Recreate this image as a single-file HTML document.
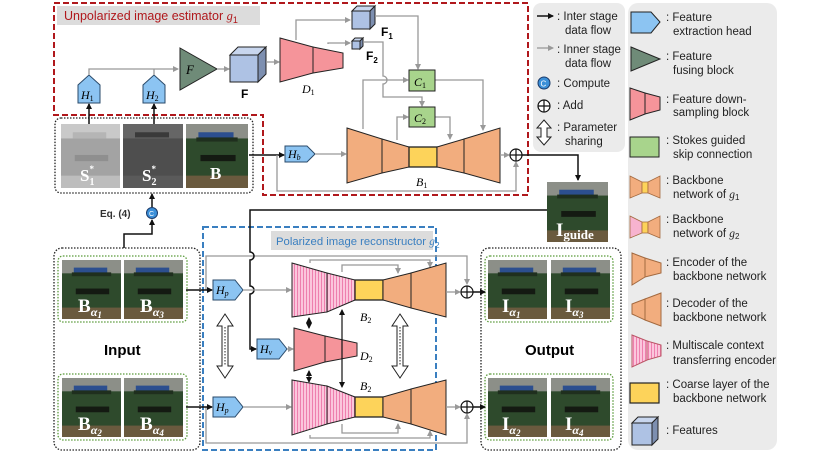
<!DOCTYPE html>
<html><head><meta charset="utf-8"><style>
html,body{margin:0;padding:0;background:#fff;}
svg{display:block;font-family:"Liberation Sans",sans-serif;}
.m{font-family:"Liberation Serif",serif;font-style:italic;}
.lg{font-size:11.5px;fill:#222;}
</style></head><body>
<svg width="830" height="455" viewBox="0 0 830 455" xmlns="http://www.w3.org/2000/svg">
<defs>
<marker id="ag" markerWidth="6" markerHeight="6" refX="5" refY="3" orient="auto" markerUnits="userSpaceOnUse"><path d="M0,0 L6,3 L0,6 z" fill="#999"/></marker>
<marker id="ab" markerWidth="6" markerHeight="6" refX="5" refY="3" orient="auto" markerUnits="userSpaceOnUse"><path d="M0,0 L6,3 L0,6 z" fill="#111"/></marker>
<marker id="abs" markerWidth="6" markerHeight="6" refX="1" refY="3" orient="auto" markerUnits="userSpaceOnUse"><path d="M6,0 L0,3 L6,6 z" fill="#111"/></marker>
<pattern id="pk" width="3" height="3" patternUnits="userSpaceOnUse"><rect width="3" height="3" fill="#fbc6dc"/><rect width="1" height="3" fill="#ee7fae"/></pattern>
<symbol id="ph" viewBox="0 0 60 62" preserveAspectRatio="none">
<rect width="60" height="62" fill="#2e4a2c"/><rect width="60" height="14" fill="#8c8f88"/>
<rect x="12" y="8" width="34" height="6" fill="#2c4f8f"/><rect x="10" y="13" width="40" height="4" fill="#1f2f1e"/>
<rect x="14" y="30" width="34" height="6" fill="#141a12"/><rect y="50" width="60" height="12" fill="#6a5a3e"/>
</symbol>
<symbol id="pl" viewBox="0 0 60 62" preserveAspectRatio="none">
<rect width="60" height="62" fill="#a3a3a3"/><rect width="60" height="14" fill="#c9c9c9"/>
<rect x="12" y="8" width="34" height="6" fill="#b5b5b5"/><rect x="14" y="30" width="34" height="6" fill="#8f8f8f"/><rect y="50" width="60" height="12" fill="#bdbdbd"/>
</symbol>
<symbol id="pd" viewBox="0 0 60 62" preserveAspectRatio="none">
<rect width="60" height="62" fill="#4e4e4e"/><rect width="60" height="14" fill="#666"/>
<rect x="12" y="8" width="34" height="5" fill="#3a3a3a"/><rect y="50" width="60" height="12" fill="#5a5a5a"/>
</symbol>
</defs>

<path d="M54,3 H528 V195 H263 V115 H54 Z" fill="none" stroke="#b0181c" stroke-width="2" stroke-dasharray="6,3"/>
<rect x="57" y="6" width="203" height="19" fill="#dcdcdc"/>
<text x="64" y="20" font-size="12.5" fill="#b0181c">Unpolarized image estimator <tspan class="m">g</tspan><tspan font-size="9" dy="3">1</tspan></text>

<rect x="55" y="118" width="198" height="75" rx="6" fill="none" stroke="#222" stroke-dasharray="1.5,1.5" stroke-width="1.3"/>
<use href="#pl" x="61" y="124" width="59" height="64"/>
<use href="#pd" x="123" y="124" width="60" height="64"/>
<use href="#ph" x="186" y="124" width="62" height="64"/>
<text x="80" y="181" font-size="17" font-weight="bold" fill="#fff" font-family="Liberation Serif,serif">S<tspan font-size="10" dy="4">1</tspan><tspan font-size="9" dx="-5" dy="-13">*</tspan></text>
<text x="142" y="181" font-size="17" font-weight="bold" fill="#fff" font-family="Liberation Serif,serif">S<tspan font-size="10" dy="4">2</tspan><tspan font-size="9" dx="-5" dy="-13">*</tspan></text>
<text x="210" y="179" font-size="17" font-weight="bold" fill="#fff" font-family="Liberation Serif,serif">B</text>

<line x1="89" y1="124" x2="89" y2="104" stroke="#111" stroke-width="1.5" marker-end="url(#ab)"/>
<line x1="154" y1="124" x2="154" y2="104" stroke="#111" stroke-width="1.5" marker-end="url(#ab)"/>
<polygon points="78,103 78,85 89,75 100,85 100,103" fill="#8cc4f2" stroke="#2a4a6a"/>
<polygon points="143,103 143,85 154,75 165,85 165,103" fill="#8cc4f2" stroke="#2a4a6a"/>
<text x="81" y="99" class="m" font-size="12">H<tspan font-size="8" dy="2" font-style="normal">1</tspan></text>
<text x="146" y="99" class="m" font-size="12">H<tspan font-size="8" dy="2" font-style="normal">2</tspan></text>
<path d="M89,75 V69 H178" fill="none" stroke="#999" stroke-width="1.3" marker-end="url(#ag)"/>
<line x1="154" y1="75" x2="154" y2="69" stroke="#999" stroke-width="1.3"/>
<polygon points="180,48 217,69 180,90" fill="#6f8b78" stroke="#222"/>
<text x="186" y="74" class="m" font-size="13">F</text>
<line x1="217" y1="69" x2="229" y2="69" stroke="#999" stroke-width="1.3" marker-end="url(#ag)"/>
<polygon points="230,55 238,47 266,47 258,55" fill="#c8d6ee" stroke="#222"/>
<polygon points="258,55 266,47 266,74 258,82" fill="#7d8fb0" stroke="#222"/>
<rect x="230" y="55" width="28" height="27" fill="#aec2e4" stroke="#222"/>
<text x="241" y="98" font-size="12" font-weight="bold">F</text>
<line x1="266" y1="62" x2="279" y2="62" stroke="#999" stroke-width="1.3" marker-end="url(#ag)"/>
<polygon points="280,38 313,47 313,73 280,82" fill="#f5949a" stroke="#222"/>
<polygon points="313,47 343,53 343,68 313,73" fill="#f5949a" stroke="#222"/>
<text x="302" y="93" class="m" font-size="12">D<tspan font-size="8" dy="2" font-style="normal">1</tspan></text>
<path d="M296,40 V20 H350" fill="none" stroke="#999" stroke-width="1.3" marker-end="url(#ag)"/>
<path d="M328,44 V43 H350" fill="none" stroke="#999" stroke-width="1.3" marker-end="url(#ag)"/>
<polygon points="352,11 357,6 375,6 370,11" fill="#c8d6ee" stroke="#222"/>
<polygon points="370,11 375,6 375,24 370,29" fill="#7d8fb0" stroke="#222"/>
<rect x="352" y="11" width="18" height="18" fill="#aec2e4" stroke="#222"/>
<text x="381" y="36" font-size="12" font-weight="bold">F<tspan font-size="8" dy="3">1</tspan></text>
<polygon points="352,41 355,38 363,38 360,41" fill="#c8d6ee" stroke="#222"/>
<polygon points="360,41 363,38 363,46 360,49" fill="#7d8fb0" stroke="#222"/>
<rect x="352" y="41" width="8" height="8" fill="#aec2e4" stroke="#222"/>
<text x="366" y="60" font-size="12" font-weight="bold">F<tspan font-size="8" dy="3">2</tspan></text>
<path d="M375,16 H418 V69" fill="none" stroke="#999" stroke-width="1.3" marker-end="url(#ag)"/>
<path d="M363,42 H383 V76 a4,4 0 0 1 0,8 V97 H422 V106" fill="none" stroke="#999" stroke-width="1.3" marker-end="url(#ag)"/>
<path d="M363,129 V80 H408" fill="none" stroke="#999" stroke-width="1.3" marker-end="url(#ag)"/>
<path d="M397,140 V117 H408" fill="none" stroke="#999" stroke-width="1.3" marker-end="url(#ag)"/>
<path d="M435,80 H483 V130" fill="none" stroke="#999" stroke-width="1.3" marker-end="url(#ag)"/>
<path d="M435,117 H450 V139" fill="none" stroke="#999" stroke-width="1.3" marker-end="url(#ag)"/>
<rect x="409" y="70" width="26" height="21" fill="#a8d48c" stroke="#222"/>
<rect x="409" y="107" width="26" height="20" fill="#a8d48c" stroke="#222"/>
<text x="414" y="86" class="m" font-size="12">C<tspan font-size="8" dy="2" font-style="normal">1</tspan></text>
<text x="414" y="122" class="m" font-size="12">C<tspan font-size="8" dy="2" font-style="normal">2</tspan></text>
<polygon points="347,128 382,139 382,173 347,183" fill="#f2ad7e" stroke="#222"/>
<polygon points="382,139 409,147 409,167 382,173" fill="#f2ad7e" stroke="#222"/>
<rect x="409" y="147" width="28" height="20" fill="#fdd35a" stroke="#222" stroke-width="1.3"/>
<polygon points="437,147 464,139 464,173 437,167" fill="#f2ad7e" stroke="#222"/>
<polygon points="464,139 500,128 500,183 464,173" fill="#f2ad7e" stroke="#222"/>
<text x="416" y="186" class="m" font-size="12">B<tspan font-size="8" dy="2" font-style="normal">1</tspan></text>
<line x1="249" y1="155" x2="284" y2="155" stroke="#111" stroke-width="1.5" marker-end="url(#ab)"/>
<polygon points="285,146 307,146 315,154 307,162 285,162" fill="#8cc4f2" stroke="#2a4a6a"/>
<text x="288" y="158" class="m" font-size="12">H<tspan font-size="8" dy="2">b</tspan></text>
<line x1="315" y1="154" x2="346" y2="154" stroke="#999" stroke-width="1.3" marker-end="url(#ag)"/>
<line x1="500" y1="155" x2="509" y2="155" stroke="#999" stroke-width="1.3" marker-end="url(#ag)"/>
<path d="M277,155 V191 H516 V162" fill="none" stroke="#999" stroke-width="1.3" marker-end="url(#ag)"/>
<circle cx="516" cy="155" r="6" fill="#fff" stroke="#111" stroke-width="1.2"/>
<path d="M510,155 H522 M516,149 V161" stroke="#111" stroke-width="1.2"/>
<path d="M522,155 H578 V180" fill="none" stroke="#111" stroke-width="1.5" marker-end="url(#ab)"/>
<use href="#ph" x="547" y="182" width="61" height="60"/>
<text x="556" y="236" font-size="19" font-weight="bold" fill="#fff" font-family="Liberation Serif,serif">I<tspan font-size="13" dy="3">guide</tspan></text>

<text x="100" y="217" font-size="10" font-weight="bold" fill="#333">Eq. (4)</text>
<line x1="152" y1="207" x2="152" y2="194" stroke="#111" stroke-width="1.5" marker-end="url(#ab)"/>
<path d="M124,248 V234 H152 V220" fill="none" stroke="#111" stroke-width="1.5" marker-end="url(#ab)"/>
<circle cx="152" cy="213" r="5.5" fill="#3b8fd8" stroke="#1a3a6a"/>
<text x="149" y="216" font-size="7" fill="#fff">C</text>

<rect x="54" y="248" width="146" height="202" rx="8" fill="none" stroke="#222" stroke-dasharray="1.5,1.5" stroke-width="1.3"/>
<rect x="58" y="256" width="129" height="66" rx="5" fill="none" stroke="#5a9a3a" stroke-dasharray="1.5,1.5" stroke-width="1.3"/>
<rect x="58" y="374" width="129" height="66" rx="5" fill="none" stroke="#5a9a3a" stroke-dasharray="1.5,1.5" stroke-width="1.3"/>
<use href="#ph" x="62" y="260" width="59" height="59"/><use href="#ph" x="124" y="260" width="59" height="59"/>
<use href="#ph" x="62" y="378" width="59" height="59"/><use href="#ph" x="124" y="378" width="59" height="59"/>
<g font-family="Liberation Serif,serif" fill="#fff" font-weight="bold" font-size="19">
<text x="78" y="312">B<tspan font-size="12" font-style="italic" dy="4">α<tspan font-size="9" dy="2">1</tspan></tspan></text>
<text x="140" y="312">B<tspan font-size="12" font-style="italic" dy="4">α<tspan font-size="9" dy="2">3</tspan></tspan></text>
<text x="78" y="430">B<tspan font-size="12" font-style="italic" dy="4">α<tspan font-size="9" dy="2">2</tspan></tspan></text>
<text x="140" y="430">B<tspan font-size="12" font-style="italic" dy="4">α<tspan font-size="9" dy="2">4</tspan></tspan></text>
</g>
<text x="104" y="355" font-size="15" font-weight="bold">Input</text>

<rect x="481" y="248" width="140" height="202" rx="8" fill="none" stroke="#222" stroke-dasharray="1.5,1.5" stroke-width="1.3"/>
<rect x="485" y="256" width="128" height="66" rx="5" fill="none" stroke="#5a9a3a" stroke-dasharray="1.5,1.5" stroke-width="1.3"/>
<rect x="485" y="374" width="128" height="66" rx="5" fill="none" stroke="#5a9a3a" stroke-dasharray="1.5,1.5" stroke-width="1.3"/>
<use href="#ph" x="488" y="260" width="59" height="59"/><use href="#ph" x="551" y="260" width="59" height="59"/>
<use href="#ph" x="488" y="378" width="59" height="59"/><use href="#ph" x="551" y="378" width="59" height="59"/>
<g font-family="Liberation Serif,serif" fill="#fff" font-weight="bold" font-size="19">
<text x="502" y="312">I<tspan font-size="12" font-style="italic" dy="4">α<tspan font-size="9" dy="2">1</tspan></tspan></text>
<text x="565" y="312">I<tspan font-size="12" font-style="italic" dy="4">α<tspan font-size="9" dy="2">3</tspan></tspan></text>
<text x="502" y="430">I<tspan font-size="12" font-style="italic" dy="4">α<tspan font-size="9" dy="2">2</tspan></tspan></text>
<text x="565" y="430">I<tspan font-size="12" font-style="italic" dy="4">α<tspan font-size="9" dy="2">4</tspan></tspan></text>
</g>
<text x="525" y="355" font-size="15" font-weight="bold">Output</text>

<rect x="203" y="227" width="233" height="223" fill="none" stroke="#3a7fc0" stroke-width="2" stroke-dasharray="6,3"/>
<rect x="271" y="231" width="162" height="19" fill="#dcdcdc"/>
<text x="276" y="245" font-size="11.3" fill="#3a7fc0">Polarized image reconstructor <tspan class="m">g</tspan><tspan font-size="8.5" dy="3">2</tspan></text>

<path d="M206,290 V256 H467 V284" fill="none" stroke="#999" stroke-width="1.3" marker-end="url(#ag)"/>
<path d="M206,407 V443 H467 V414" fill="none" stroke="#999" stroke-width="1.3" marker-end="url(#ag)"/>
<path d="M310,263 V260 H430 V267" fill="none" stroke="#999" stroke-width="1.3" marker-end="url(#ag)"/>
<path d="M342,272 V265 H398 V273" fill="none" stroke="#999" stroke-width="1.3" marker-end="url(#ag)"/>
<path d="M310,435 V438 H430 V431" fill="none" stroke="#999" stroke-width="1.3" marker-end="url(#ag)"/>
<path d="M342,424 V433 H398 V424" fill="none" stroke="#999" stroke-width="1.3" marker-end="url(#ag)"/>

<path d="M547,210 H250 V252 a4,4 0 0 1 0,8 V286 a4,4 0 0 1 0,8 V349 H256" fill="none" stroke="#111" stroke-width="1.5" marker-end="url(#ab)"/>

<line x1="186" y1="290" x2="212" y2="290" stroke="#111" stroke-width="1.5" marker-end="url(#ab)"/>
<line x1="186" y1="407" x2="212" y2="407" stroke="#111" stroke-width="1.5" marker-end="url(#ab)"/>
<polygon points="213,280 235,280 243,290 235,300 213,300" fill="#8cc4f2" stroke="#2a4a6a"/>
<polygon points="213,397 235,397 243,407 235,417 213,417" fill="#8cc4f2" stroke="#2a4a6a"/>
<text x="216" y="294" class="m" font-size="12">H<tspan font-size="8" dy="2">p</tspan></text>
<text x="216" y="411" class="m" font-size="12">H<tspan font-size="8" dy="2">p</tspan></text>
<polygon points="257,339 279,339 287,349 279,359 257,359" fill="#8cc4f2" stroke="#2a4a6a"/>
<text x="260" y="353" class="m" font-size="12">H<tspan font-size="8" dy="2">v</tspan></text>
<line x1="243" y1="290" x2="291" y2="290" stroke="#999" stroke-width="1.3" marker-end="url(#ag)"/>
<line x1="243" y1="407" x2="291" y2="407" stroke="#999" stroke-width="1.3" marker-end="url(#ag)"/>
<line x1="287" y1="349" x2="293" y2="349" stroke="#999" stroke-width="1.3" marker-end="url(#ag)"/>

<polygon points="292,263 327,273 327,312 292,317" fill="url(#pk)" stroke="#222"/>
<polygon points="327,273 355,280 355,300 327,312" fill="url(#pk)" stroke="#222"/>
<rect x="355" y="280" width="28" height="20" fill="#fdd35a" stroke="#222" stroke-width="1.3"/>
<polygon points="383,280 411,273 411,308 383,300" fill="#f2ad7e" stroke="#222"/>
<polygon points="411,273 446,263 446,317 411,308" fill="#f2ad7e" stroke="#222"/>
<text x="360" y="321" class="m" font-size="12">B<tspan font-size="8" dy="2" font-style="normal">2</tspan></text>
<polygon points="294,328 325,336 325,362 294,371" fill="#f5949a" stroke="#222"/>
<polygon points="325,336 357,343 357,356 325,362" fill="#f5949a" stroke="#222"/>
<text x="360" y="360" class="m" font-size="12">D<tspan font-size="8" dy="2" font-style="normal">2</tspan></text>
<polygon points="292,380 327,386 327,424 292,435" fill="url(#pk)" stroke="#222"/>
<polygon points="327,386 355,397 355,417 327,424" fill="url(#pk)" stroke="#222"/>
<rect x="355" y="397" width="28" height="20" fill="#fdd35a" stroke="#222" stroke-width="1.3"/>
<polygon points="383,397 411,389 411,424 383,417" fill="#f2ad7e" stroke="#222"/>
<polygon points="411,389 446,380 446,435 411,424" fill="#f2ad7e" stroke="#222"/>
<text x="360" y="390" class="m" font-size="12">B<tspan font-size="8" dy="2" font-style="normal">2</tspan></text>
<line x1="309" y1="318" x2="309" y2="328" stroke="#111" stroke-width="1.2" marker-end="url(#ab)" marker-start="url(#abs)"/>
<line x1="309" y1="371" x2="309" y2="382" stroke="#111" stroke-width="1.2" marker-end="url(#ab)" marker-start="url(#abs)"/>
<line x1="342" y1="310" x2="342" y2="387" stroke="#111" stroke-width="1.2" marker-end="url(#ab)" marker-start="url(#abs)"/>
<line x1="446" y1="292" x2="460" y2="292" stroke="#999" stroke-width="1.3" marker-end="url(#ag)"/>
<line x1="446" y1="407" x2="460" y2="407" stroke="#999" stroke-width="1.3" marker-end="url(#ag)"/>
<g stroke="#111" stroke-width="1.2" fill="#fff">
<circle cx="467" cy="292" r="6"/><path d="M461,292 H473 M467,286 V298"/>
<circle cx="467" cy="407" r="6"/><path d="M461,407 H473 M467,401 V413"/>
</g>
<line x1="473" y1="292" x2="485" y2="292" stroke="#111" stroke-width="1.5" marker-end="url(#ab)"/>
<line x1="473" y1="407" x2="485" y2="407" stroke="#111" stroke-width="1.5" marker-end="url(#ab)"/>
<g fill="#fff" stroke="#222" stroke-width="1">
<path d="M225,314 L233,326 H228 V366 H233 L225,378 L217,366 H222 V326 H217 Z"/>
<path d="M400,314 L408,326 H403 V366 H408 L400,378 L392,366 H397 V326 H392 Z"/>
</g>
<line x1="225" y1="327" x2="225" y2="365" stroke="#222" stroke-dasharray="1.5,1.5"/>
<line x1="400" y1="327" x2="400" y2="365" stroke="#222" stroke-dasharray="1.5,1.5"/>

<rect x="533" y="3" width="92" height="149" rx="8" fill="#ebebeb"/>
<rect x="628" y="3" width="149" height="447" rx="10" fill="#ebebeb"/>
<line x1="537" y1="16" x2="553" y2="16" stroke="#111" stroke-width="1.5" marker-end="url(#ab)"/>
<line x1="537" y1="48" x2="553" y2="48" stroke="#999" stroke-width="1.3" marker-end="url(#ag)"/>
<g class="lg">
<text x="557" y="20">: Inter stage</text><text x="565" y="34">data flow</text>
<text x="557" y="53">: Inner stage</text><text x="565" y="67">data flow</text>
<text x="557" y="87">: Compute</text>
<text x="557" y="109">: Add</text>
<text x="557" y="131">: Parameter</text><text x="565" y="145">sharing</text>
</g>
<circle cx="544" cy="83" r="6" fill="#3b8fd8" stroke="#1a3a6a"/><text x="540.5" y="86.5" font-size="8" fill="#fff">C</text>
<circle cx="544" cy="106" r="6" fill="#fff" stroke="#111" stroke-width="1.2"/><path d="M538,106 H550 M544,100 V112" stroke="#111" stroke-width="1.2"/>
<path d="M544,120 L551,128 H547 V137 H551 L544,145 L537,137 H541 V128 H537 Z" fill="#fff" stroke="#222"/>

<polygon points="631,12 651,12 660,22 651,33 631,33" fill="#8cc4f2" stroke="#222"/>
<polygon points="631,47 660,59 631,71" fill="#6f8b78" stroke="#222"/>
<polygon points="630,88 645,93 645,114 630,120" fill="#f5949a" stroke="#222"/>
<polygon points="645,93 660,97 660,110 645,114" fill="#f5949a" stroke="#222"/>
<rect x="630" y="137" width="29" height="20" fill="#a8d48c" stroke="#222"/>
<g stroke="#a36a40" stroke-width=".8">
<polygon points="630,176 642,182 642,193 630,198" fill="#f2ad7e"/><polygon points="642,182 648,182 648,193 642,193" fill="#fdd35a"/><polygon points="648,182 660,176 660,198 648,193" fill="#f2ad7e"/>
<polygon points="630,216 642,222 642,233 630,238" fill="#f7b3cf"/><polygon points="642,222 648,222 648,233 642,233" fill="#fdd35a"/><polygon points="648,222 660,216 660,238 648,233" fill="#f2ad7e"/>
</g>
<polygon points="632,253 645,258 645,277 632,285" fill="#f2ad7e" stroke="#a36a40"/><polygon points="645,258 661,263 661,273 645,277" fill="#f2ad7e" stroke="#a36a40"/>
<polygon points="632,304 645,299 645,320 632,314" fill="#f2ad7e" stroke="#a36a40"/><polygon points="645,299 661,293 661,326 645,320" fill="#f2ad7e" stroke="#a36a40"/>
<polygon points="632,335 647,341 647,360 632,367" fill="url(#pk)" stroke="#b56"/><polygon points="647,341 661,345 661,356 647,360" fill="url(#pk)" stroke="#b56"/>
<rect x="630" y="383" width="29" height="20" fill="#fdd35a" stroke="#222" stroke-width="1.2"/>
<polygon points="632,423 638,417 658,417 652,423" fill="#c8d6ee" stroke="#222"/>
<polygon points="652,423 658,417 658,439 652,445" fill="#7d8fb0" stroke="#222"/>
<rect x="632" y="423" width="20" height="22" fill="#aec2e4" stroke="#222"/>
<g class="lg">
<text x="666" y="21">: Feature</text><text x="673" y="35">extraction head</text>
<text x="666" y="60">: Feature</text><text x="673" y="74">fusing block</text>
<text x="666" y="103">: Feature down-</text><text x="673" y="116">sampling block</text>
<text x="666" y="144">: Stokes guided</text><text x="673" y="158">skip connection</text>
<text x="666" y="184">: Backbone</text><text x="673" y="198">network of <tspan class="m">g</tspan><tspan font-size="8" dy="2">1</tspan></text>
<text x="666" y="223">: Backbone</text><text x="673" y="237">network of <tspan class="m">g</tspan><tspan font-size="8" dy="2">2</tspan></text>
<text x="666" y="266">: Encoder of the</text><text x="673" y="280">backbone network</text>
<text x="666" y="307">: Decoder of the</text><text x="673" y="321">backbone network</text>
<text x="666" y="349">: Multiscale context</text><text x="673" y="364">transferring encoder</text>
<text x="666" y="388">: Coarse layer of the</text><text x="673" y="402">backbone network</text>
<text x="666" y="434">: Features</text>
</g>
</svg>
</body></html>
